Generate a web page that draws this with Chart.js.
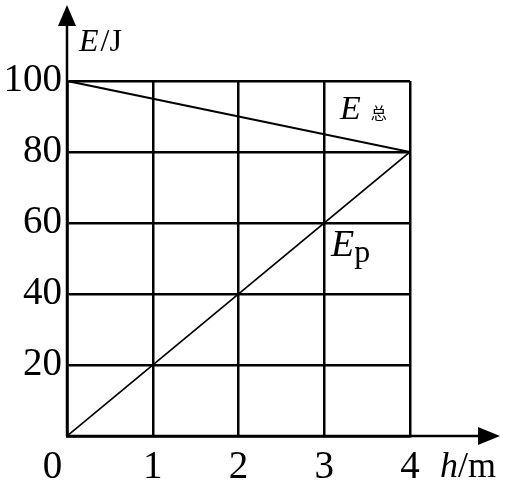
<!DOCTYPE html>
<html>
<head>
<meta charset="utf-8">
<script src="https://cdn.jsdelivr.net/npm/chart.js@4/dist/chart.umd.min.js"></script>
<style>
  html, body { margin: 0; padding: 0; background: #fff; }
  #wrap { width: 512px; height: 489px; }
</style>
</head>
<body>
<div id="wrap"><canvas id="energyChart" width="512" height="489"></canvas></div>
<script>
//chart data
var h_values = [0, 4];
var e_total = [100, 80];
var e_p = [0, 80];
var x_ticks = [0, 1, 2, 3, 4];
var y_ticks = [20, 40, 60, 80, 100];

var serif = "'Liberation Serif', 'Times New Roman', serif";

function toPoints(xs, ys) {
    return xs.map(function (x, i) { return { x: x, y: ys[i] }; });
}

//axis arrows and labels
var axisDecor = {
    id: 'axisDecor',
    afterDraw: function (chart) {
        var ctx = chart.ctx;
        var sx = chart.scales.x, sy = chart.scales.y;
        var x0 = sx.getPixelForValue(0), y0 = sy.getPixelForValue(0);
        ctx.save();
        ctx.strokeStyle = '#000';
        ctx.fillStyle = '#000';
        ctx.lineWidth = 2.5;
        // axes past the grid
        ctx.beginPath();
        ctx.moveTo(x0, y0);
        ctx.lineTo(x0, 22);
        ctx.moveTo(x0, y0);
        ctx.lineTo(482, y0);
        ctx.stroke();
        ctx.beginPath();
        ctx.moveTo(x0, 5);
        ctx.lineTo(x0 - 9, 26);
        ctx.lineTo(x0 + 9, 26);
        ctx.closePath();
        ctx.fill();
        ctx.beginPath();
        ctx.moveTo(500, y0);
        ctx.lineTo(478, y0 - 9);
        ctx.lineTo(478, y0 + 9);
        ctx.closePath();
        ctx.fill();
        // texts
        ctx.textBaseline = 'alphabetic';
        ctx.textAlign = 'left';
        function put(parts, x, y) {
            parts.forEach(function (p) {
                ctx.font = p[1];
                ctx.fillText(p[0], x, y + (p[2] || 0));
                x += ctx.measureText(p[0]).width + (p[3] || 0);
            });
        }
        put([['E', 'italic 32px ' + serif, 0, 2], ['/J', '32px ' + serif]], 79, 51);
        put([['E', 'italic 34px ' + serif, 0, 10], ['总', "16px 'Noto Sans CJK SC', sans-serif"]], 340, 119);
        put([['E', 'italic 38px ' + serif], ['p', '32px ' + serif, 6]], 331, 256);
        put([['h', 'italic 36px ' + serif], ['/m', '36px ' + serif]], 440, 477);
        ctx.restore();
    }
};

var chart = new Chart(document.getElementById('energyChart').getContext('2d'), {
    type: 'line',
    data: {
        datasets: [{
                label: 'E总',
                data: toPoints(h_values, e_total),
                borderColor: '#000',
                borderWidth: 2.2,
                pointRadius: 0,
                fill: false
            },
            {
                label: 'Ep',
                data: toPoints(h_values, e_p),
                borderColor: '#000',
                borderWidth: 1.7,
                pointRadius: 0,
                fill: false
            }]
    },
    options: {
        responsive: false,
        animation: false,
        layout: { padding: { top: 81, right: 102, left: 0, bottom: 0 } },
        plugins: { legend: { display: false }, tooltip: { enabled: false } },
        scales: {
            x: {
                type: 'linear',
                min: 0,
                max: 4,
                afterBuildTicks: function (s) { s.ticks = x_ticks.map(function (v) { return { value: v }; }); },
                afterFit: function (s) { s.height = 53; },
                grid: { color: '#000', lineWidth: 2.5, drawTicks: false },
                border: { color: '#000', width: 2.5 },
                ticks: {
                    padding: 8,
                    color: '#000',
                    font: { family: serif, size: 39 },
                    maxRotation: 0,
                    callback: function (v) { return v === 0 ? '0   ' : String(v); }
                }
            },
            y: {
                min: 0,
                max: 100,
                afterBuildTicks: function (s) { s.ticks = [0].concat(y_ticks).map(function (v) { return { value: v }; }); },
                afterFit: function (s) { s.width = 67; },
                grid: { color: '#000', lineWidth: 2.5, drawTicks: false },
                border: { color: '#000', width: 2.5 },
                ticks: {
                    padding: 5,
                    color: '#000',
                    font: { family: serif, size: 39 },
                    callback: function (v) { return v === 0 ? '' : String(v); }
                }
            }
        }
    },
    plugins: [axisDecor]
});
</script>
</body>
</html>
